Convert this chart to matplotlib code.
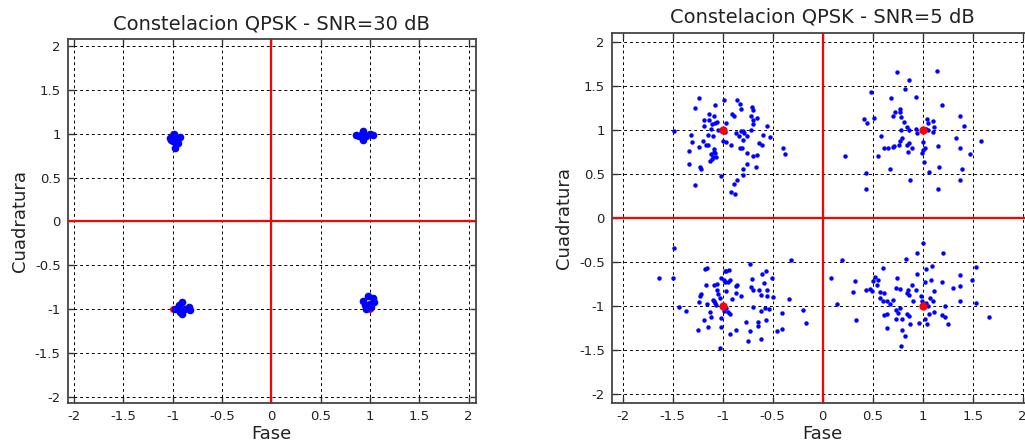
import numpy as np
import matplotlib
matplotlib.use("Agg")
import matplotlib.pyplot as plt

plt.rcParams['font.family'] = ['DejaVu Sans']
plt.rcParams['axes.unicode_minus'] = False

# ideal QPSK symbols
ref_i = [-1, 1, -1, 1]
ref_q = [1, 1, -1, -1]

ticks = [-2, -1.5, -1, -0.5, 0, 0.5, 1, 1.5, 2]
tick_labels = ['-2', '-1.5', '-1', '-0.5', '0', '0.5', '1', '1.5', '2']

# received symbols, SNR = 30 dB
snr30 = np.array([
    [-0.99, 1.00], [-1.03, 0.95], [-0.93, 0.96], [-1.00, 0.915], [-0.945, 0.90],
    [-0.98, 0.84], [-1.02, 0.93], [-0.96, 0.94], [-0.97, 0.88],
    [0.86, 0.99], [0.927, 1.037], [0.927, 0.93], [0.995, 1.00], [1.03, 0.99],
    [0.89, 0.98], [0.96, 0.98], [0.92, 1.00],
    [-0.98, -1.00], [-0.91, -0.925], [-0.91, -1.06], [-0.84, -0.975], [-0.88, -1.00],
    [-0.94, -0.96], [-0.82, -1.01], [-0.93, -1.03],
    [0.93, -0.906], [0.98, -0.85], [1.03, -0.87], [0.995, -0.945], [1.045, -0.925],
    [0.96, -1.00], [1.01, -0.98], [0.95, -0.95],
])

# received symbols, SNR = 5 dB, one array per quadrant
snr5_ul = np.array([
    [-1.24, 1.36], [-0.99, 1.34], [-0.86, 1.34], [-1.08, 1.28], [-1.28, 1.24],
    [-0.83, 1.29], [-0.71, 1.26], [-0.82, 1.23], [-0.70, 1.22], [-1.14, 1.18],
    [-0.91, 1.18], [-0.89, 1.16], [-1.09, 1.15], [-0.72, 1.15], [-0.66, 1.13],
    [-1.19, 1.11], [-1.14, 1.11], [-1.06, 1.09], [-1.08, 1.07], [-0.97, 1.08],
    [-0.70, 1.11], [-0.70, 1.06], [-1.11, 1.06], [-1.19, 1.04], [-0.56, 1.04],
    [-1.49, 0.98], [-1.12, 1.01], [-1.05, 0.99], [-0.98, 0.97], [-0.87, 0.96],
    [-0.82, 0.98], [-0.80, 0.98], [-0.72, 1.00], [-1.32, 0.94], [-1.15, 0.94],
    [-1.10, 0.93], [-0.84, 0.93], [-0.79, 0.96], [-0.76, 0.93], [-0.60, 0.94],
    [-0.53, 0.92], [-1.31, 0.86], [-1.20, 0.87], [-1.00, 0.87], [-0.97, 0.86],
    [-0.80, 0.88], [-1.17, 0.82], [-1.15, 0.83], [-0.92, 0.83], [-0.64, 0.85],
    [-0.61, 0.83], [-1.24, 0.80], [-1.09, 0.78], [-0.83, 0.79], [-0.81, 0.79],
    [-1.34, 0.76], [-1.09, 0.75], [-1.12, 0.72], [-0.76, 0.74], [-1.10, 0.69],
    [-1.07, 0.69], [-0.70, 0.70], [-0.66, 0.71], [-0.40, 0.79], [-0.38, 0.72],
    [-1.13, 0.64], [-1.34, 0.61], [-1.23, 0.57], [-1.22, 0.55], [-0.76, 0.61],
    [-0.80, 0.55], [-0.67, 0.57], [-1.02, 0.47], [-0.80, 0.48], [-0.86, 0.43],
    [-1.28, 0.37], [-0.89, 0.38], [-0.92, 0.29], [-0.88, 0.27], [-1.08, 0.73],
    [-1.11, 0.67],
])

snr5_ur = np.array([
    [0.74, 1.65], [1.14, 1.67], [0.86, 1.56], [0.82, 1.46], [0.48, 1.43],
    [0.93, 1.37], [0.68, 1.36], [1.19, 1.28], [1.37, 1.16], [0.77, 1.23],
    [0.72, 1.20], [0.77, 1.20], [0.70, 1.15], [0.78, 1.14], [0.41, 1.12],
    [0.51, 1.13], [0.44, 1.07], [0.81, 1.09], [1.04, 1.12], [1.10, 1.10],
    [1.05, 1.08], [1.41, 1.04], [0.84, 1.03], [0.86, 1.00], [0.78, 0.99],
    [0.93, 1.01], [0.94, 0.96], [1.03, 1.01], [1.05, 1.00], [1.11, 1.03],
    [1.10, 0.97], [0.58, 0.93], [1.33, 0.90], [1.58, 0.87], [0.79, 0.90],
    [0.77, 0.87], [1.00, 0.86], [0.84, 0.83], [0.76, 0.82], [0.71, 0.81],
    [0.61, 0.79], [0.65, 0.79], [0.70, 0.80], [0.86, 0.85], [0.89, 0.79],
    [0.85, 0.75], [1.02, 0.79], [1.00, 0.77], [0.99, 0.74], [1.15, 0.81],
    [1.37, 0.79], [1.47, 0.72], [0.22, 0.70], [0.55, 0.70], [1.01, 0.63],
    [0.67, 0.55], [1.16, 0.57], [1.06, 0.52], [1.39, 0.55], [0.43, 0.51],
    [0.87, 0.43], [1.37, 0.43], [0.43, 0.33], [1.15, 0.33],
])

snr5_ll = np.array([
    [-1.49, -0.34], [-0.32, -0.48], [-1.64, -0.68], [-1.50, -0.68], [-0.73, -0.53],
    [-1.16, -0.57], [-1.18, -0.58], [-0.98, -0.60], [-0.94, -0.59], [-0.97, -0.60],
    [-0.57, -0.61], [-0.61, -0.64], [-0.71, -0.70], [-0.51, -0.68], [-1.02, -0.69],
    [-0.99, -0.71], [-0.98, -0.73], [-0.95, -0.73], [-0.93, -0.71], [-0.86, -0.76],
    [-0.87, -0.78], [-0.59, -0.74], [-1.17, -0.76], [-1.09, -0.76], [-1.06, -0.75],
    [-0.72, -0.79], [-0.64, -0.82], [-0.70, -0.82], [-0.56, -0.82], [-1.06, -0.82],
    [-0.97, -0.83], [-1.22, -0.87], [-1.23, -0.89], [-1.05, -0.87], [-1.03, -0.91],
    [-0.87, -0.85], [-0.62, -0.88], [-0.56, -0.89], [-0.50, -0.90], [-0.82, -0.89],
    [-0.91, -0.92], [-0.34, -0.92], [-1.10, -0.93], [-1.09, -0.94], [-1.24, -0.96],
    [-1.16, -0.98], [-1.08, -0.97], [-1.07, -0.99], [-0.97, -1.03], [-0.99, -1.06],
    [-0.95, -1.07], [-0.93, -1.09], [-1.44, -1.01], [-1.37, -1.06], [-1.13, -1.07],
    [-0.70, -1.01], [-0.58, -1.03], [-0.54, -1.04], [-0.62, -1.06], [-0.20, -1.05],
    [-0.41, -1.08], [-1.02, -1.14], [-1.12, -1.13], [-1.19, -1.16], [-0.77, -1.18],
    [-0.65, -1.18], [-0.57, -1.16], [-0.17, -1.19], [-0.65, -1.23], [-1.25, -1.27],
    [-1.15, -1.24], [-1.02, -1.24], [-0.87, -1.27], [-0.73, -1.29], [-0.41, -1.26],
    [-0.46, -1.29], [-0.93, -1.32], [-0.75, -1.40], [-0.62, -1.38], [-1.03, -1.48],
])

snr5_lr = np.array([
    [1.00, -0.29], [0.94, -0.40], [1.20, -0.40], [0.19, -0.48], [0.83, -0.47],
    [0.60, -0.57], [1.09, -0.55], [1.03, -0.58], [1.53, -0.56], [0.94, -0.64],
    [0.08, -0.69], [0.32, -0.72], [1.37, -0.65], [0.74, -0.68], [0.52, -0.67],
    [0.50, -0.72], [0.55, -0.71], [1.02, -0.73], [1.08, -0.71], [1.19, -0.73],
    [1.49, -0.71], [0.54, -0.76], [0.89, -0.76], [0.30, -0.84], [0.43, -0.82],
    [0.47, -0.81], [0.49, -0.83], [0.57, -0.84], [0.61, -0.85], [0.73, -0.80],
    [0.77, -0.81], [0.85, -0.82], [0.84, -0.85], [0.93, -0.82], [1.11, -0.83],
    [1.30, -0.80], [1.37, -0.78], [0.86, -0.88], [0.98, -0.89], [0.57, -0.91],
    [0.60, -0.95], [0.64, -0.94], [0.70, -0.93], [0.67, -0.98], [0.77, -1.02],
    [0.90, -0.95], [0.99, -0.95], [1.07, -0.91], [1.10, -0.94], [1.03, -0.97],
    [1.05, -1.00], [1.37, -0.94], [1.53, -0.97], [0.14, -0.98], [1.22, -1.00],
    [0.73, -1.05], [0.75, -1.08], [0.64, -1.09], [0.61, -1.11], [0.84, -1.09],
    [0.86, -1.12], [1.06, -1.09], [1.11, -1.07], [1.19, -1.10], [1.22, -1.13],
    [0.96, -1.19], [1.04, -1.21], [1.02, -1.15], [0.73, -1.15], [0.79, -1.15],
    [0.87, -1.21], [1.25, -1.21], [0.33, -1.16], [1.66, -1.13], [0.64, -1.25],
    [0.79, -1.27], [0.82, -1.34], [0.78, -1.46],
])


def style_axes(ax, xlim, ylim, title):
    ax.set_xlim(xlim)
    ax.set_ylim(ylim)
    ax.set_xticks(ticks)
    ax.set_xticklabels(tick_labels)
    ax.set_yticks(ticks)
    ax.set_yticklabels(tick_labels)
    ax.grid(True, color='black', linestyle=(0, (3, 3)), linewidth=0.7)
    ax.set_axisbelow(True)
    ax.tick_params(direction='in', length=4, width=1, top=True, right=True,
                   labelsize=9.5, colors='#333333', labelcolor='#222222', pad=5)
    for s in ax.spines.values():
        s.set_color('#444444')
        s.set_linewidth(1.3)
    ax.axhline(0, color='red', linewidth=1.6, zorder=2)
    ax.axvline(0, color='red', linewidth=1.6, zorder=2)
    ax.set_title(title, fontsize=14, color='#222222', pad=7)
    ax.set_xlabel('Fase', fontsize=13, color='#222222', labelpad=2)
    ax.set_ylabel('Cuadratura', fontsize=13, color='#222222', labelpad=4)


fig = plt.figure(figsize=(10.25, 4.46), dpi=100)
ax1 = fig.add_axes([0.066, 0.0971, 0.398, 0.8148])
ax2 = fig.add_axes([0.5968, 0.0971, 0.4117, 0.8296])

style_axes(ax1, (-2.065, 2.07), (-2.07, 2.08), 'Constelacion QPSK - SNR=30 dB')
ax1.plot(ref_i, ref_q, 'o', color='red', markersize=5, markeredgewidth=0, zorder=3)
ax1.plot(snr30[:, 0], snr30[:, 1], 'o', color='blue', markersize=5.5,
         markeredgewidth=0, zorder=4)

style_axes(ax2, (-2.11, 2.11), (-2.1, 2.1), 'Constelacion QPSK - SNR=5 dB')
for pts in [snr5_ul, snr5_ur, snr5_ll, snr5_lr]:
    ax2.plot(pts[:, 0], pts[:, 1], 'o', color='blue', markersize=3.2,
             markeredgewidth=0, zorder=3)
ax2.plot(ref_i, ref_q, 'o', color='red', markersize=6, markeredgewidth=0, zorder=4)

fig.savefig('out.png', dpi=100)
